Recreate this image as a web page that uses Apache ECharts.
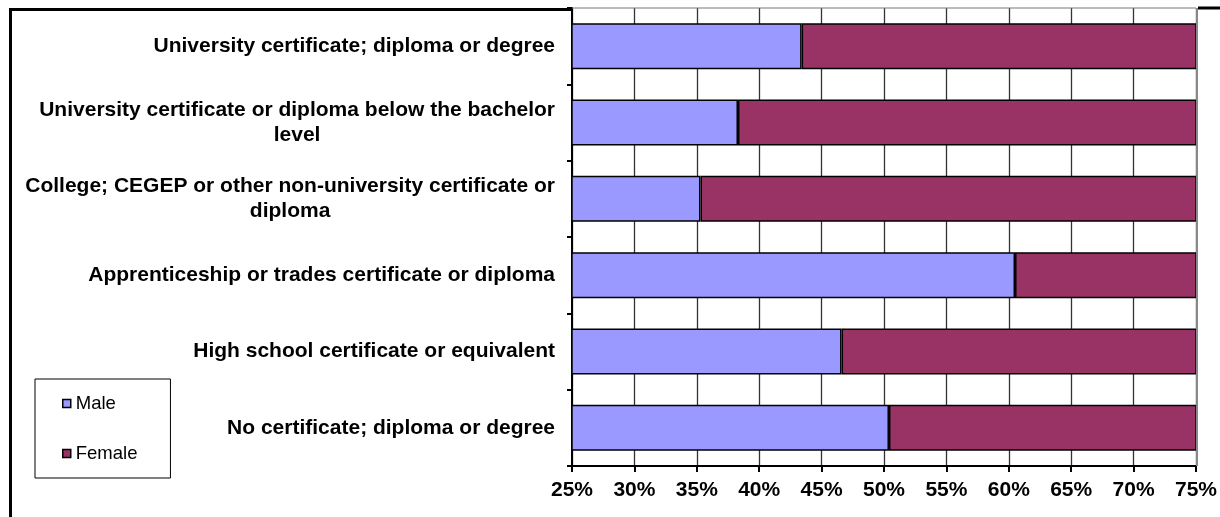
<!DOCTYPE html>
<html>
<head>
<meta charset="utf-8">
<script src="https://cdn.jsdelivr.net/npm/echarts@6/dist/echarts.min.js"></script>
<style>
html,body{margin:0;padding:0;background:#fff;}
#c{width:1220px;height:517px;}
</style>
</head>
<body>
<div id="c"></div>
<script>
const categories = [
  "University certificate; diploma or degree",
  "University certificate or diploma below the bachelor\nlevel",
  "College; CEGEP or other non-university certificate or\ndiploma",
  "Apprenticeship or trades certificate or diploma",
  "High school certificate or equivalent",
  "No certificate; diploma or degree"
];
const maleValues = [43.4, 38.3, 35.3, 60.5, 46.6, 50.4];
const femaleValues = [56.6, 61.7, 64.7, 39.5, 53.4, 49.6];
const seriesNames = ["Male", "Female"];

const chart = echarts.init(document.getElementById('c'), null, {renderer: 'canvas'});
const FONT = '"Liberation Sans", Arial, sans-serif';
chart.setOption({
  animation: false,
  backgroundColor: '#fff',
  grid: {left: 572, right: 18, top: 8, bottom: 51, containLabel: false, show: false},
  legend: {
    orient: 'vertical',
    left: 35, top: 379,
    padding: [15, 33, 15, 27],
    itemGap: 31,
    itemWidth: 8, itemHeight: 8,
    icon: 'rect',
    borderColor: '#000', borderWidth: 1,
    itemStyle: {borderColor: '#000', borderWidth: 1.5},
    textStyle: {fontFamily: FONT, fontSize: 18.5, color: '#000'},
    data: seriesNames
  },
  xAxis: {
    type: 'value', min: 25, max: 75, interval: 5,
    axisLine: {show: true, lineStyle: {color: '#000', width: 2}},
    axisTick: {show: true, length: 6, lineStyle: {color: '#000', width: 2}},
    axisLabel: {formatter: '{value}%', margin: 14, fontFamily: FONT, fontWeight: 'bold', fontSize: 21, color: '#000'},
    splitLine: {show: true, lineStyle: {color: '#333', width: 1.3}}
  },
  yAxis: {
    type: 'category', inverse: true, data: categories,
    axisLine: {show: true, lineStyle: {color: '#000', width: 2}},
    axisTick: {show: true, length: 5, lineStyle: {color: '#000', width: 2}},
    axisLabel: {
      margin: 17, align: 'right',
      fontFamily: FONT, fontWeight: 'bold', fontSize: 21, color: '#000', lineHeight: 25,
      formatter: function (v) {
        return v.split('\n').map(function (s) { return '{c|' + s + '}'; }).join('\n');
      },
      rich: {c: {align: 'center', fontFamily: FONT, fontWeight: 'bold', fontSize: 21, color: '#000', lineHeight: 25}}
    }
  },
  series: [
    {
      name: seriesNames[0], type: 'bar', stack: 'g', data: maleValues, barWidth: 46,
      itemStyle: {color: '#9999FF', borderColor: '#000', borderWidth: 1.5}
    },
    {
      name: seriesNames[1], type: 'bar', stack: 'g', data: femaleValues, barWidth: 46,
      itemStyle: {color: '#993366', borderColor: '#000', borderWidth: 1.5}
    }
  ]
});
const rightX = chart.convertToPixel({xAxisIndex: 0}, 75);
const leftX = chart.convertToPixel({xAxisIndex: 0}, 25);
chart.setOption({
  graphic: [
    {type: 'line', shape: {x1: leftX, y1: 8, x2: rightX, y2: 8}, style: {stroke: '#777', lineWidth: 1}, z: 100},
    {type: 'line', shape: {x1: rightX + 1, y1: 8, x2: rightX + 1, y2: 466}, style: {stroke: '#888', lineWidth: 2}, z: 100},
    {type: 'polyline', shape: {points: [[10.5, 600], [10.5, 9.5], [leftX, 9.5]]}, style: {stroke: '#000', lineWidth: 3, fill: null}, z: 100},
    {type: 'line', shape: {x1: rightX + 2, y1: 8, x2: 1230, y2: 8}, style: {stroke: '#000', lineWidth: 3}, z: 100}
  ]
});
</script>
</body>
</html>
